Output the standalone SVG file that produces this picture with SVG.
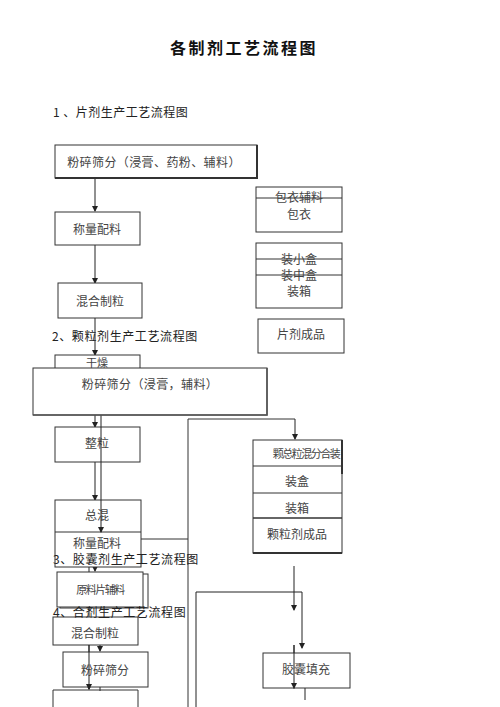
<svg xmlns="http://www.w3.org/2000/svg" width="500" height="707" viewBox="0 0 500 707">
<defs>
<marker id="ah" markerWidth="6" markerHeight="6" refX="5" refY="3" orient="auto" markerUnits="userSpaceOnUse"><path d="M0,0 L6,3 L0,6 z" fill="#222"/></marker>
<style>
.b{fill:#fff;stroke:#333;stroke-width:1}
.n{fill:none;stroke:#333;stroke-width:1}
.t{font-family:"Noto Sans CJK SC","Noto Sans",sans-serif;font-size:12px;fill:#444;text-anchor:middle;dominant-baseline:central}
.h{font-family:"Noto Sans CJK SC","Noto Sans",sans-serif;font-size:12px;fill:#222;dominant-baseline:central}
.c{fill:none;stroke:#222;stroke-width:1}
.a{marker-end:url(#ah)}
</style>
</defs>
<rect width="500" height="707" fill="#fff"/>
<text x="244" y="47" style="font-family:'Noto Sans CJK SC',sans-serif;font-size:16px;font-weight:bold;fill:#111;text-anchor:middle;dominant-baseline:central;letter-spacing:2.5px">各制剂工艺流程图</text>
<text class="h" x="53" y="111" style="letter-spacing:0.5px">1 、片剂生产工艺流程图</text>

<g id="connectors">
<line class="c a" x1="95" y1="179" x2="95" y2="211"/>
<line class="c a" x1="95" y1="245" x2="95" y2="283"/>
<line class="c a" x1="95" y1="318" x2="95" y2="355"/>
<line class="c a" x1="95" y1="415" x2="95" y2="427"/>
<line class="c a" x1="95" y1="462" x2="95" y2="500"/>
<line class="c a" x1="101" y1="415" x2="101" y2="532"/>
<polyline class="n" points="141,539 188,539"/>
<polyline class="n" points="188,707 188,419 295,419"/>
<line class="c a" x1="295" y1="419" x2="295" y2="439"/>
<line class="c a" x1="95" y1="567" x2="95" y2="571"/>
<line class="c a" x1="89" y1="567" x2="89" y2="608"/>
<line class="c a" x1="89" y1="608" x2="89" y2="689"/>
<line class="c a" x1="100" y1="645" x2="100" y2="651"/>
<line class="c" x1="100" y1="687" x2="100" y2="691"/>
<polyline class="c" points="196,707 196,592 302,592"/>
<line class="c a" x1="302" y1="592" x2="302" y2="648"/>
<line class="c a" x1="294" y1="566" x2="294" y2="610"/>
<line class="c a" x1="294" y1="645" x2="294" y2="688"/>
<line class="c" x1="305" y1="688" x2="305" y2="700"/>
</g>

<g id="n1"><rect class="b" x="55" y="145" width="202" height="33"/><path d="M55,178 H257 V145" fill="none" stroke="#333" stroke-width="2"/><text class="t" x="154" y="161" style="letter-spacing:0.4px">粉碎筛分（浸膏、药粉、辅料）</text></g>
<g id="n2"><rect class="b" x="55" y="212" width="85" height="33"/><text class="t" x="97" y="228">称量配料</text></g>
<g id="n3"><rect class="b" x="58" y="283" width="84" height="35"/><text class="t" x="100" y="300">混合制粒</text></g>
<g id="n4"><rect class="b" x="256" y="187" width="86" height="45"/><line class="n" x1="256" y1="198" x2="342" y2="198"/><text class="t" x="299" y="196">包衣辅料</text><text class="t" x="299" y="213">包衣</text></g>
<g id="n5"><rect class="b" x="256" y="243" width="86" height="65"/><line class="n" x1="256" y1="259" x2="342" y2="259"/><line class="n" x1="256" y1="275" x2="342" y2="275"/><text class="t" x="299" y="258">装小盒</text><text class="t" x="299" y="274">装中盒</text><text class="t" x="299" y="290">装箱</text></g>
<g id="n6"><rect class="b" x="258" y="319" width="86" height="34"/><text class="t" x="301" y="333">片剂成品</text></g>

<text class="h" x="52" y="335" style="letter-spacing:0.6px">2、颗粒剂生产工艺流程图</text>
<g id="n7"><rect class="b" x="55" y="355" width="85" height="40"/></g>
<g id="n8"><rect class="b" x="33" y="368" width="234" height="47"/><path d="M33,415 H267 V368" fill="none" stroke="#555" stroke-width="1.6"/><text class="t" x="150" y="383" style="letter-spacing:0.4px">粉碎筛分（浸膏，辅料）</text></g>
<text class="t" x="97" y="362" style="font-size:11px">干燥</text>
<g id="n9"><rect class="b" x="55" y="427" width="85" height="35"/><text class="t" x="97" y="442">整粒</text></g>
<line class="c" x1="101" y1="427" x2="101" y2="462"/>
<g id="n10"><rect class="b" x="55" y="500" width="86" height="67"/><line class="n" x1="55" y1="532" x2="141" y2="532"/><text class="t" x="97" y="514">总混</text><text class="t" x="97" y="542">称量配料</text></g>
<line class="c a" x1="101" y1="500" x2="101" y2="532"/>
<g id="n11"><rect class="b" x="253" y="440" width="89" height="113"/><line class="n" x1="253" y1="466" x2="342" y2="466"/><line class="n" x1="253" y1="493" x2="342" y2="493"/><line x1="253" y1="518" x2="342" y2="518" stroke="#333" stroke-width="1.5"/><line x1="253" y1="553" x2="342" y2="553" stroke="#333" stroke-width="2"/><line x1="342" y1="440" x2="342" y2="474" stroke="#333" stroke-width="2"/><text class="t" x="306" y="453" style="font-size:11px;letter-spacing:-1.5px">颗总粒混分合装</text><text class="t" x="297" y="480">装盒</text><text class="t" x="297" y="507">装箱</text><text class="t" x="297" y="533">颗粒剂成品</text></g>

<text class="h" x="53" y="558" style="letter-spacing:0.6px">3、胶囊剂生产工艺流程图</text>
<g id="n12"><rect class="n" x="60" y="574" width="88" height="34"/><rect class="b" x="57" y="572" width="86" height="35"/><text class="t" x="100" y="589" style="font-size:11px;letter-spacing:-1.5px">原料片辅料</text></g>
<g id="n13"><rect class="b" x="53" y="617" width="85" height="28"/><text class="t" x="95" y="632">混合制粒</text></g>
<text class="h" x="53" y="611" style="letter-spacing:0.6px">4、合剂生产工艺流程图</text>
<g id="n14"><rect class="b" x="63" y="652" width="85" height="35"/><text class="t" x="105" y="669">粉碎筛分</text></g>
<line class="c a" x1="89" y1="645" x2="89" y2="689"/>
<g id="n15"><path class="n" d="M53,707 V690 H138 V707"/></g>
<g id="n16"><rect class="b" x="263" y="653" width="87" height="35"/><text class="t" x="306" y="668">胶囊填充</text></g>
<line class="c a" x1="294" y1="645" x2="294" y2="688"/>
</svg>
